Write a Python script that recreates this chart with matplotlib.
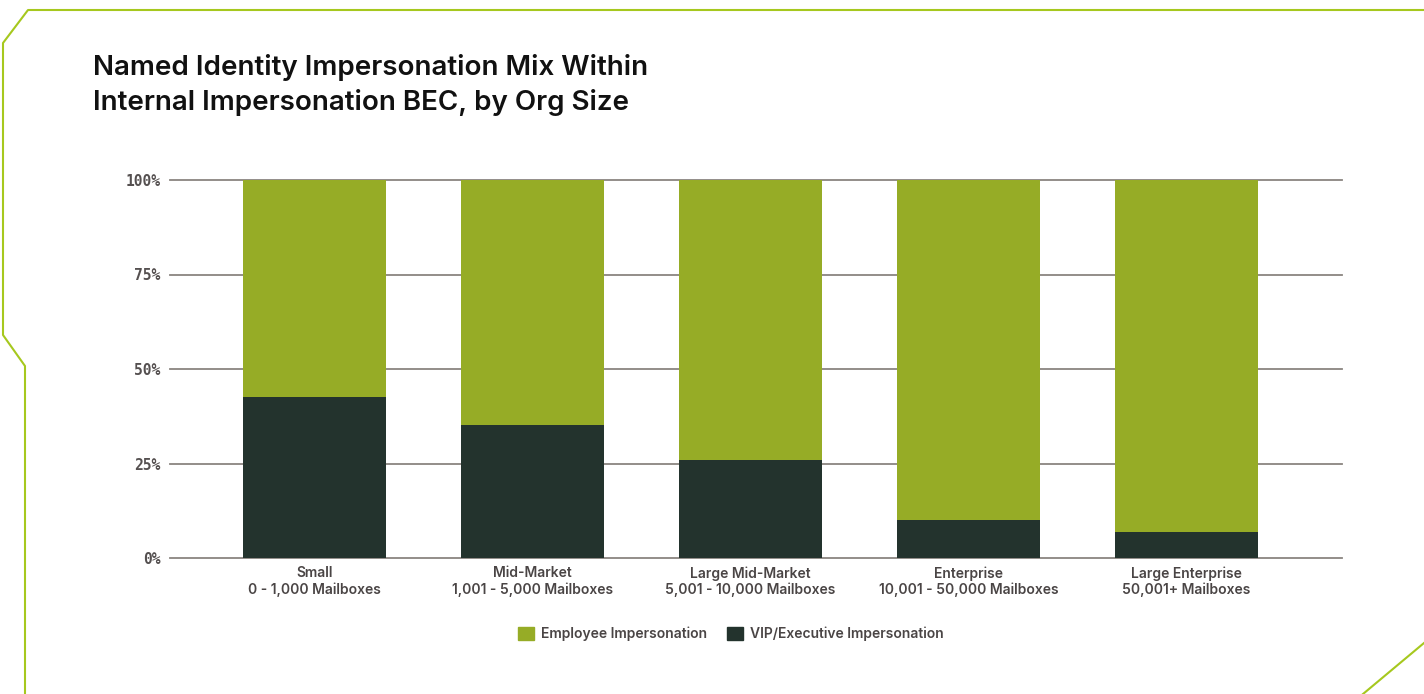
import matplotlib.pyplot as plt
from matplotlib.lines import Line2D
from matplotlib.patches import Patch

segments = ["Small", "Mid-Market", "Large Mid-Market", "Enterprise", "Large Enterprise"]
mailboxes = ["0 - 1,000 Mailboxes", "1,001 - 5,000 Mailboxes", "5,001 - 10,000 Mailboxes",
             "10,001 - 50,000 Mailboxes", "50,001+ Mailboxes"]
vip_exec = [42.7, 35.2, 25.9, 10.1, 6.9]
employee = [100 - v for v in vip_exec]
y_ticks = [0, 25, 50, 75, 100]

GREEN = "#96ac26"
DARK = "#23332d"
LIME = "#a6c81e"
TEXT = "#4a4545"

fig = plt.figure(figsize=(14.24, 6.94), dpi=100)
ax = fig.add_axes([170 / 1424, 1 - 558 / 694, (1342 - 170) / 1424, (558 - 180) / 694])

x = list(range(len(segments)))
ax.bar(x, vip_exec, width=0.656, color=DARK, zorder=3)
ax.bar(x, employee, width=0.656, bottom=vip_exec, color=GREEN, zorder=3)

ax.set_xlim(-0.663, 4.713)
ax.set_ylim(0, 100)
ax.set_yticks(y_ticks)
ax.set_yticklabels([f"{t}%" for t in y_ticks], family="DejaVu Sans Mono", fontsize=10.5,
                   fontweight="bold", color="#555050")
ax.set_xticks(x)
ax.set_xticklabels([f"{s}\n{m}" for s, m in zip(segments, mailboxes)],
                   family="Inter", fontsize=10, fontweight=600, color=TEXT, linespacing=1.15)
ax.tick_params(axis="both", length=0)
ax.tick_params(axis="y", pad=7)
ax.tick_params(axis="x", pad=6)
for s in ax.spines.values():
    s.set_visible(False)
for t in y_ticks:
    ax.axhline(t, color="#8a8580", linewidth=1.3, zorder=1, clip_on=False)

# two-line title, lines centred near y=65 and y=101
fig.text(93 / 1424, 1 - 85 / 694, "Named Identity Impersonation Mix Within\nInternal Impersonation BEC, by Org Size",
         family="Inter", fontsize=20, fontweight=600, color="#111111",
         va="center", ha="left", linespacing=1.42)

handles = [Patch(color=GREEN, label="Employee Impersonation"),
           Patch(color=DARK, label="VIP/Executive Impersonation")]
fig.legend(handles=handles, loc="center", bbox_to_anchor=(731 / 1424, 1 - 634 / 694),
           ncol=2, frameon=False, handlelength=1.15, handleheight=1.15,
           handletextpad=0.5, columnspacing=1.4,
           prop={"family": "Inter", "size": 10, "weight": 600}, labelcolor=TEXT)

# decorative frame
def frame_line(xs, ys):
    fig.add_artist(Line2D([v / 1424 for v in xs], [1 - v / 694 for v in ys],
                          color=LIME, linewidth=1.5, transform=fig.transFigure))

frame_line([1424, 28, 3, 3, 25, 25], [10, 10, 43, 335, 366, 694])
frame_line([1363, 1424], [694, 643])

fig.savefig("out.png", dpi=100)
